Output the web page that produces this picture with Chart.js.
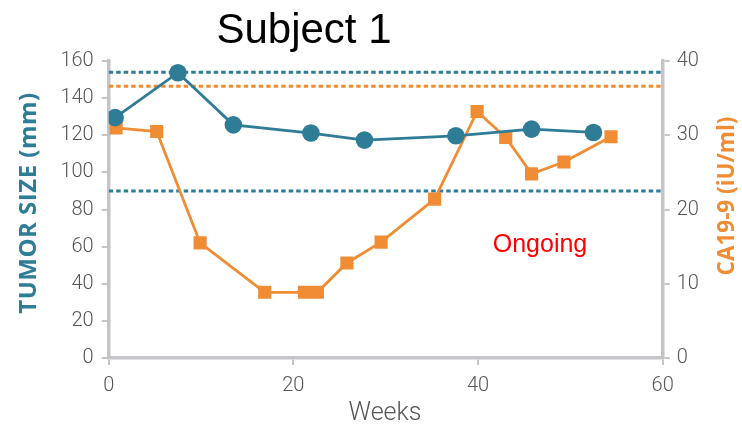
<!DOCTYPE html>
<html>
<head>
<meta charset="utf-8">
<script src="https://cdn.jsdelivr.net/npm/chart.js@4.4.0/dist/chart.umd.min.js"></script>
<style>
html,body{margin:0;padding:0;background:#fff;}
#wrap{position:relative;width:742px;height:429px;}
</style>
</head>
<body>
<div id="wrap"><canvas id="c" width="742" height="429"></canvas></div>
<script>
// ---- data ----
const tumorWeeks = [0.7, 7.5, 13.5, 21.9, 27.7, 37.6, 45.8, 52.5];
const tumorSize  = [129.5, 153.7, 125.6, 121.2, 117.4, 119.7, 123.3, 121.5];
const caWeeks = [0.8, 5.2, 9.9, 16.9, 21.2, 22.6, 25.8, 29.5, 35.3, 39.9, 43.0, 45.8, 49.3, 54.4];
const caValues = [31.0, 30.5, 15.5, 8.85, 8.85, 8.85, 12.8, 15.6, 21.4, 33.2, 29.7, 24.8, 26.4, 29.8];
const tumorUpperRef = 154;
const tumorLowerRef = 90;
const caRef = 36.6;
const refSpan = [0, 60];
const xTicks = [0, 20, 40, 60];
const leftTicks = [0, 20, 40, 60, 80, 100, 120, 140, 160];
const rightTicks = [0, 10, 20, 30, 40];
const chartTitle = "Subject 1";
const noteText = "Ongoing";
const xTitle = "Weeks";
const leftTitle = "TUMOR SIZE (mm)";
const rightTitle = "CA19-9 (iU/ml)";

const BLUE = '#2f7c97';
const ORANGE = '#f08c33';
const AXIS = '#c5c5c9';
const TICKTXT = '#555659';

const pts = (xs, ys) => xs.map((x, i) => ({x: x, y: ys[i]}));
const refLine = (v) => refSpan.map(x => ({x: x, y: v}));

const textPlugin = {
  id: 'texts',
  afterDraw(chart) {
    const ctx = chart.ctx;
    ctx.save();
    ctx.fillStyle = '#000';
    ctx.font = '42px "Liberation Sans", Arial, sans-serif';
    ctx.textAlign = 'center';
    ctx.textBaseline = 'alphabetic';
    ctx.fillText(chartTitle, 304, 43);

    ctx.fillStyle = '#ff0000';
    ctx.font = '25px "Liberation Sans", Arial, sans-serif';
    ctx.fillText(noteText, 540, 252);

    ctx.fillStyle = TICKTXT;
    ctx.font = '300 25px Roboto, sans-serif';
    ctx.textBaseline = 'middle';
    ctx.fillText(xTitle, 385, 414);

    ctx.font = 'bold 24px "Open Sans", sans-serif';
    ctx.letterSpacing = '0.5px';
    ctx.fillStyle = BLUE;
    ctx.translate(29, 203);
    ctx.rotate(-Math.PI / 2);
    ctx.fillText(leftTitle, 0, 0);
    ctx.setTransform(1, 0, 0, 1, 0, 0);
    ctx.letterSpacing = '0px';
    ctx.font = 'bold 22.5px "Open Sans", sans-serif';
    ctx.fillStyle = ORANGE;
    ctx.translate(728, 196);
    ctx.rotate(-Math.PI / 2);
    ctx.fillText(rightTitle, 0, 0);
    ctx.restore();
  }
};

const tickFont = {family: 'Roboto, sans-serif', size: 20, weight: 300};

new Chart(document.getElementById('c'), {
  type: 'line',
  data: {
    datasets: [
      {data: refLine(tumorUpperRef), yAxisID: 'y', borderColor: BLUE, borderWidth: 3, borderDash: [4.5, 3], pointRadius: 0, order: 10},
      {data: refLine(tumorLowerRef), yAxisID: 'y', borderColor: BLUE, borderWidth: 3, borderDash: [4.5, 3], pointRadius: 0, order: 10},
      {data: refLine(caRef), yAxisID: 'y2', borderColor: ORANGE, borderWidth: 3, borderDash: [4.5, 3], pointRadius: 0, order: 10},
      {data: pts(caWeeks, caValues), yAxisID: 'y2', borderColor: ORANGE, backgroundColor: ORANGE, borderWidth: 2.8,
       pointStyle: 'rect', pointRadius: 9.3, pointBorderWidth: 0, order: 2},
      {data: pts(tumorWeeks, tumorSize), yAxisID: 'y', borderColor: BLUE, backgroundColor: BLUE, borderWidth: 2.8,
       pointStyle: 'circle', pointRadius: 8.8, pointBorderWidth: 0, order: 1}
    ]
  },
  options: {
    responsive: false,
    animation: false,
    devicePixelRatio: 1,
    layout: {padding: {top: 61, left: 0, right: 0, bottom: 0}},
    plugins: {legend: {display: false}, tooltip: {enabled: false}},
    scales: {
      x: {
        type: 'linear', min: 0, max: 60,
        afterBuildTicks: s => { s.ticks = xTicks.map(v => ({value: v})); },
        afterFit: s => { s.height = 71; },
        border: {display: true, color: AXIS, width: 3.5},
        grid: {drawOnChartArea: false, drawTicks: true, tickLength: 7, color: AXIS, lineWidth: 2},
        ticks: {color: TICKTXT, font: tickFont, padding: 9, maxRotation: 0}
      },
      y: {
        type: 'linear', position: 'left', min: 0, max: 160,
        afterBuildTicks: s => { s.ticks = leftTicks.map(v => ({value: v})); },
        afterFit: s => { s.width = 108.7; },
        border: {display: true, color: AXIS, width: 3.5},
        grid: {drawOnChartArea: false, drawTicks: true, tickLength: 7, color: AXIS, lineWidth: 2},
        ticks: {color: TICKTXT, font: tickFont, padding: 8}
      },
      y2: {
        type: 'linear', position: 'right', min: 0, max: 40,
        afterBuildTicks: s => { s.ticks = rightTicks.map(v => ({value: v})); },
        afterFit: s => { s.width = 79.3; },
        border: {display: true, color: AXIS, width: 3.5},
        grid: {drawOnChartArea: false, drawTicks: true, tickLength: 7, color: AXIS, lineWidth: 2},
        ticks: {color: TICKTXT, font: tickFont, padding: 7}
      }
    }
  },
  plugins: [textPlugin]
});
</script>
</body>
</html>
